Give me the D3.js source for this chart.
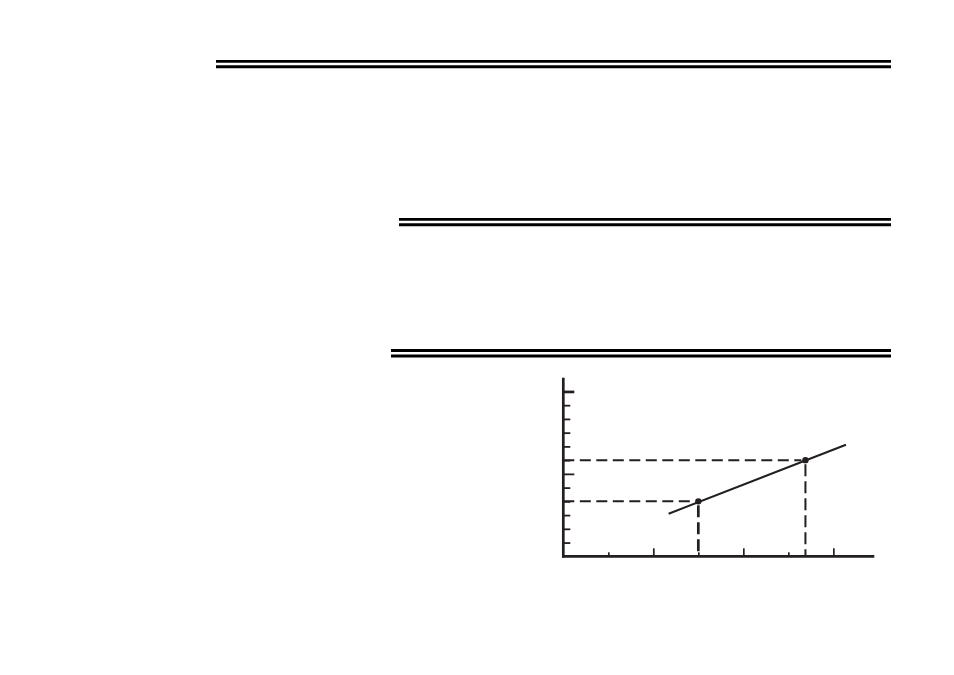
<!DOCTYPE html>
<html>
<head>
<meta charset="utf-8">
<script src="https://cdn.jsdelivr.net/npm/d3@7"></script>
<style>
  body { margin: 0; background: #fff; }
  svg { display: block; }
</style>
</head>
<body>
<svg id="chart" width="954" height="675"></svg>
<script>
// chart values
const xTicks = [1, 2, 3, 4, 5, 6];
const xMajor = [2, 4, 6];
const yTicks = [1, 2, 3, 4, 5, 6, 7, 8, 9, 10, 11, 12];
const yMajor = [6, 12];
const points = [{x: 3, y: 4}, {x: 5.38, y: 7}];
const trend = [{x: 2.34, y: 3.1}, {x: 6.28, y: 8.12}];

const ink = "#231f20";
var svg = d3.select("#chart");

// double rules across the page
var rules = [
    {x1: 216, y: 61.3},
    {x1: 399, y: 219.3},
    {x1: 391, y: 350.5}
];
rules.forEach(r => {
    svg.append("line").attr("x1", r.x1).attr("x2", 891)
        .attr("y1", r.y).attr("y2", r.y)
        .attr("stroke", "#000").attr("stroke-width", 2.8);
    svg.append("line").attr("x1", r.x1).attr("x2", 891)
        .attr("y1", r.y + 5.4).attr("y2", r.y + 5.4)
        .attr("stroke", "#000").attr("stroke-width", 3);
});

// scales
var x = d3.scaleLinear().domain([0, 6.91]).range([563.3, 874.3]);
var y = d3.scaleLinear().domain([0, 13]).range([556.3, 377.7]);

// dashed guides
var guides = svg.append("g").attr("fill", "none").attr("stroke", ink);
points.forEach((p, i) => {
    guides.append("line")
        .attr("x1", x(0)).attr("x2", x(p.x) - 4)
        .attr("y1", y(p.y)).attr("y2", y(p.y))
        .attr("stroke-width", 2)
        .attr("stroke-dasharray", "11,5.5");
    guides.append("line")
        .attr("x1", x(p.x)).attr("x2", x(p.x))
        .attr("y1", y(p.y) + 4).attr("y2", y(0))
        .attr("stroke-width", i == 0 ? 2.7 : 2)
        .attr("stroke-dasharray", "12,5");
});

// y axis, ticks pointing inward
var yAxis = svg.append("g")
    .attr("transform", "translate(" + x(0) + ",0)")
    .call(d3.axisRight(y).tickValues(yTicks).tickSize(7).tickSizeOuter(0).tickFormat(""));
yAxis.select(".domain").attr("stroke", ink).attr("stroke-width", 2.7)
    .attr("d", "M0," + (y(0) + 1.3) + "V" + y.range()[1]);
yAxis.selectAll(".tick line").attr("stroke", ink).attr("stroke-width", 1.8)
    .attr("x2", d => yMajor.includes(d) ? 11 : 7);
yAxis.selectAll(".tick").filter(d => d == 12).select("line")
    .attr("stroke-width", 2.7);

// x axis, ticks pointing up
var xAxis = svg.append("g")
    .attr("transform", "translate(0," + y(0) + ")")
    .call(d3.axisTop(x).tickValues(xTicks).tickSize(8).tickSizeOuter(0).tickFormat(""));
xAxis.select(".domain").attr("stroke", ink).attr("stroke-width", 2.7)
    .attr("d", "M" + (x(0) - 1.3) + ",0H" + x.range()[1]);
xAxis.selectAll(".tick line").attr("stroke", ink).attr("stroke-width", 1.7)
    .attr("y2", d => xMajor.includes(d) ? -8 : -4);

// trend line and the two marked points
var line = d3.line().x(d => x(d.x)).y(d => y(d.y));
svg.append("path").datum(trend)
    .attr("d", line)
    .attr("fill", "none")
    .attr("stroke", ink)
    .attr("stroke-width", 2);
svg.selectAll("circle.pt").data(points).enter()
    .append("circle").attr("class", "pt")
    .attr("cx", d => x(d.x)).attr("cy", d => y(d.y))
    .attr("r", 3.2).attr("fill", ink);
</script>
</body>
</html>
